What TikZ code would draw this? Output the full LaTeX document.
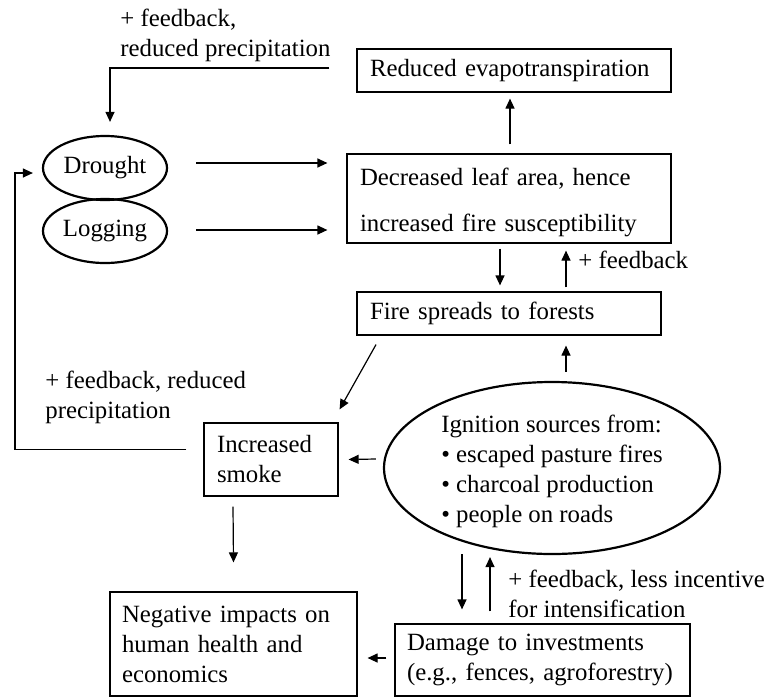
\documentclass[tikz,border=0pt]{standalone}
\usepackage{fontspec}
\setmainfont{Liberation Serif}
\usetikzlibrary{arrows.meta}
\usetikzlibrary{shapes.geometric}

\begin{document}
\begin{tikzpicture}[x=0.5pt,y=-0.5pt,
    every node/.style={font=\fontsize{12.4}{15}\selectfont},
    box/.style={draw,line width=0.6pt,inner xsep=6.5pt,inner ysep=0pt,align=left},
    blob/.style={draw,ellipse,line width=1.1pt,inner sep=0pt},
    arr/.style={-{Triangle[length=5pt,width=4.5pt]},line width=0.6pt},
    lbl/.style={anchor=north west,inner sep=0pt,align=left}]
    \useasboundingbox (0,0) rectangle (775,696);

    \node[box,text width=144pt,minimum height=21.5pt] (evap) at (514,70.5)
        {Reduced evapotranspiration};
    \node[box,text width=149pt,minimum height=44.5pt,
        font=\fontsize{12.4}{23}\selectfont] (leaf) at (509,198.5)
        {\mbox{}\\[-10.5pt]Decreased leaf area, hence\\increased fire susceptibility};
    \node[box,text width=139pt,minimum height=21.5pt] (fire) at (509,313.5)
        {Fire spreads to forests};
    \node[box,text width=54pt,minimum height=36.5pt] (smoke) at (271,459.5)
        {Increased\\smoke};
    \node[box,inner xsep=6pt,text width=111.5pt,minimum height=52pt] (neg)
        at (233.5,644) {Negative impacts on\\human health and\\economics};
    \node[box,inner xsep=6pt,text width=135.5pt,minimum height=36pt] (dam)
        at (542.5,660) {Damage to investments\\(e.g., fences, agroforestry)};
    \node[blob,minimum width=62pt,minimum height=32pt] (drought) at (105,168) {Drought};
    \node[blob,minimum width=62pt,minimum height=32pt] (logging) at (105,231) {Logging};
    \node[blob,align=left,minimum width=168pt,minimum height=86pt] (ign) at (552,468)
        {\mbox{}\\[-2.5pt]Ignition sources from:\\\textbullet{} escaped pasture fires\\
        \textbullet{} charcoal production\\\textbullet{} people on roads};

    \node[lbl] (fbtop) at (120,9) {+ feedback,\\reduced precipitation};
    \node[anchor=base west,inner sep=0pt] (fbleaf) at (578,268) {+ feedback};
    \node[lbl] (fbleft) at (45,371) {+ feedback, reduced\\precipitation};
    \node[lbl] (fbdam) at (508,570) {+ feedback, less incentive\\for intensification};

    \draw[arr] ([shift={(-27,-2.5)}]evap.west) -| ([shift={(5,-13)}]drought.north);
    \draw[arr] ([shift={(1,-9)}]leaf.north) -- ([shift={(-4,6)}]evap.south);
    \draw[arr] ([shift={(28,-5)}]drought.east) -- ([shift={(-19,-35.5)}]leaf.west);
    \draw[arr] ([shift={(28,-1)}]logging.east) -- ([shift={(-19,31.5)}]leaf.west);
    \draw[arr] ([shift={(-9,5)}]leaf.south) -- ([shift={(-9,-6)}]fire.north);
    \draw[arr] ([shift={(57,-4)}]fire.north) -- ([shift={(57,7)}]leaf.south);
    \draw[arr] ([shift={(14,-9)}]ign.north) -- ([shift={(57,10)}]fire.south);
    \draw[arr] ([shift={(-133,9)}]fire.south) -- ([shift={(1,-13)}]smoke.north east);
    \draw[arr] ([shift={(-7,-9)}]ign.west) -- ([shift={(10,0)}]smoke.east);
    \draw[arr] ([shift={(-38,10)}]smoke.south) -- ([shift={(0,-29)}]neg.north);
    \draw[arr] ([shift={(-17,-10)}]smoke.west) -| ([shift={(-27,5)}]drought.west)
        -- ([shift={(-9,5)}]drought.west);
    \draw[arr] ([shift={(-90,-1)}]ign.south) -- ([shift={(-80.5,-14)}]dam.north);
    \draw[arr] ([shift={(-52.5,-12)}]dam.north) -- ([shift={(-62,2)}]ign.south);
    \draw[arr] ([shift={(-8,-2)}]dam.west) -- ([shift={(10,14)}]neg.east);
\end{tikzpicture}
\end{document}
